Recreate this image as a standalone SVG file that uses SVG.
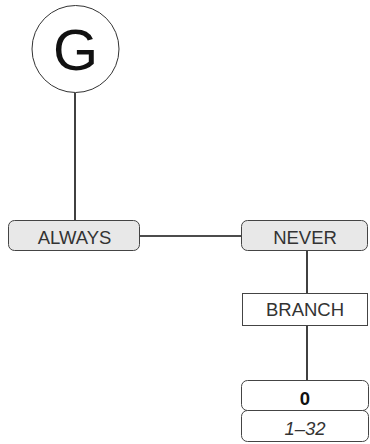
<svg xmlns="http://www.w3.org/2000/svg" width="370" height="444" viewBox="0 0 370 444">
<style>
.box{stroke:#444;stroke-width:1}
.opt{fill:#e8e8e8}
.wh{fill:#fff}
.lbl{font-family:"Liberation Sans",Arial,sans-serif;font-size:18.5px;fill:#333;text-anchor:middle}
.conn{stroke:#111;stroke-width:1.6;fill:none}
</style>
<rect width="370" height="444" fill="#fff"/>
<g id="connectors">
<line class="conn" x1="75" y1="93" x2="75" y2="220"/>
<line class="conn" x1="140" y1="236" x2="241" y2="236"/>
<line class="conn" x1="307" y1="250" x2="307" y2="293"/>
<line class="conn" x1="307" y1="325" x2="307" y2="380"/>
</g>
<g id="node-G">
<circle cx="75.5" cy="49" r="43.5" fill="#fff" stroke="#333" stroke-width="1"/>
<text x="75.5" y="70" font-family="'Liberation Sans',Arial,sans-serif" font-size="58" fill="#111" text-anchor="middle">G</text>
</g>
<g id="node-always">
<rect class="box opt" x="8.5" y="220.5" width="131" height="30" rx="6"/>
<text class="lbl" x="74.5" y="244">ALWAYS</text>
</g>
<g id="node-never">
<rect class="box opt" x="241.5" y="220.5" width="126" height="30" rx="6"/>
<text class="lbl" x="305" y="244">NEVER</text>
</g>
<g id="node-branch">
<rect class="box wh" x="242.5" y="293.5" width="125" height="32"/>
<text class="lbl" x="305" y="316">BRANCH</text>
</g>
<g id="node-value">
<rect class="box wh" x="241.5" y="380.5" width="127" height="30" rx="6"/>
<text class="lbl" x="305" y="405" font-weight="bold" style="fill:#111">0</text>
<rect class="box wh" x="241.5" y="410.5" width="127" height="31" rx="6"/>
<text class="lbl" x="305" y="435" font-style="italic">1–32</text>
</g>
</svg>
